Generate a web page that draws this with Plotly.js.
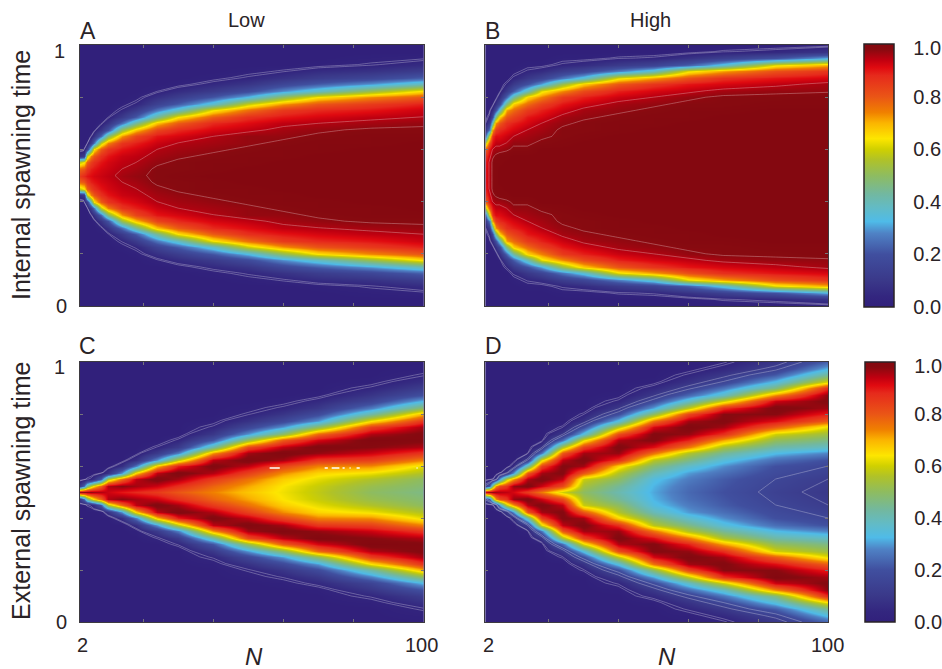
<!DOCTYPE html>
<html><head><meta charset="utf-8">
<script src="https://cdn.plot.ly/plotly-3.0.1.min.js"></script>
<style>html,body{margin:0;padding:0;background:#fff}</style></head>
<body><div id="chart" style="width:942px;height:669px"></div>
<script>
// Column positions (N) and upper-half row positions (time); the lower half is the mirror image.
const nValues = [2,3,4,5,6,8,10,14,18,24,30,40,50,60,70,85,100];
const timeUpper = [.5,.525,.55,.575,.6,.625,.65,.675,.7,.725,.75,.775,.8,.825,.85,.875,.9,.925,.95,.975,1];

// One list per N value, percent of the colour scale, from time .5 upward (missing tail = 0).
const panelA = [
 [85,78,58,8,1],
 [88,80,63,11,1],
 [90,86,78,58,13,1],
 [91,89,84,74,40,13,2],
 [92,90,87,80,64,26,8,1],
 [93,92,90,87,79,58,24,9,2],
 [94,93,92,90,86,74,48,20,8,2],
 [96,95,94,93,90,86,72,52,25,11,4,1],
 [97,96,95,94,92,89,83,68,44,22,11,4,1],
 [98,98,97,96,95,93,90,83,68,44,26,14,7,2],
 [99,98,98,97,96,95,92,88,79,64,38,22,12,6,1],
 [100,99,99,98,97,96,95,92,88,79,63,37,21,11,5,1],
 [100,100,99,99,98,97,97,94,91,87,76,59,33,18,9,4,1],
 [100,100,100,99,99,98,97,96,94,90,85,72,50,29,16,8,3],
 [100,100,100,100,99,99,98,97,95,92,88,80,64,38,22,12,6,1],
 [100,100,100,100,100,99,99,98,96,94,90,85,73,52,30,16,8,3,1],
 [100,100,100,100,100,100,99,98,97,95,93,89,80,65,40,23,12,6,2]
];
const panelB = [
 [90,90,89,86,78,58,24,10,3,1],
 [95,95,95,93,90,81,62,28,12,4,1],
 [98,98,98,97,95,91,87,72,42,18,7,1],
 [99,99,99,98,96,94,91,85,72,46,18,7,1],
 [100,100,99,99,96,94,91,88,80,67,38,17,7,1],
 [100,100,100,99,97,95,93,90,87,80,71,47,24,11,4],
 [100,100,100,100,98,97,95,92,89,84,77,67,43,22,11,4,1],
 [100,100,100,100,98,97,96,95,92,90,85,77,66,40,20,10,4,1],
 [100,100,100,100,100,98,97,96,95,92,89,84,74,62,31,15,6,1],
 [100,100,100,100,100,99,98,98,97,96,93,90,85,73,52,26,12,4,1],
 [100,100,100,100,100,100,99,98,98,97,96,93,89,82,67,36,16,6,1],
 [100,100,100,100,100,100,100,99,99,98,97,96,93,89,80,62,27,11,3],
 [100,100,100,100,100,100,100,100,99,99,98,97,95,92,86,71,38,15,4],
 [100,100,100,100,100,100,100,100,100,99,99,98,97,94,90,81,62,23,8,1],
 [100,100,100,100,100,100,100,100,100,100,99,98,98,96,92,87,71,36,13,3],
 [100,100,100,100,100,100,100,100,100,100,100,99,98,97,94,90,81,62,20,5],
 [100,100,100,100,100,100,100,100,100,100,100,99,99,97,96,92,86,70,32,9,1]
];
const panelC = [
 [96,12],
 [97,25],
 [97,45,3],
 [97,58,4],
 [96,66,8],
 [95,78,22,1],
 [93,95,56,8],
 [90,98,77,30,7],
 [88,96,94,66,27,7,1],
 [85,93,100,94,68,30,11,3],
 [80,87,96,100,89,58,27,11,4],
 [74,78,85,95,100,94,72,42,21,10,4,1],
 [68,71,76,84,94,100,96,82,52,30,16,8,3,1],
 [63,64,67,73,83,96,100,94,79,50,30,17,9,4,1],
 [58,59,62,66,74,86,97,100,92,77,50,30,18,10,5,1],
 [50,52,56,63,73,84,93,98,100,95,84,64,42,27,15,9,4,1],
 [46,48,50,56,62,74,86,95,99,99,96,86,70,50,33,20,12,7,3,1]
];
const panelD = [
 [92,15],
 [96,22,1],
 [97,50,2],
 [96,72,8],
 [95,82,30,1],
 [94,86,58,10],
 [92,97,72,30,6],
 [85,100,95,80,42,13,2],
 [75,93,100,96,84,62,26,9,1],
 [60,82,94,99,99,94,80,55,25,10,3],
 [50,54,59,80,96,100,96,84,62,35,19,8,3],
 [41,44,50,56,66,87,97,100,95,82,58,35,19,10,4,1],
 [31,32,34,40,48,57,76,91,99,99,92,76,50,31,18,10,5,1],
 [24,25,27,30,37,46,56,75,89,97,100,96,83,58,38,24,14,8,4,1],
 [20,21,22,25,29,35,44,55,71,87,96,99,98,87,60,38,26,16,10,5,2],
 [14,15,16,18,20,25,33,42,51,60,79,91,98,100,93,73,47,34,22,14,9],
 [10,11,12,14,16,20,28,38,46,53,62,79,89,96,99,98,88,62,45,33,23]
];
// Short white gaps visible in panel C
const gapN = [56.1,59,null,71.8,72.7,null,73.8,76,null,76.9,77.5,null,78.9,79.2,null,80.9,81.8,null,98,98.3];
const gapTime = [.592,.592,null,.592,.592,null,.592,.592,null,.592,.592,null,.592,.592,null,.592,.592,null,.592,.592];

const tickN = [2,20,40,60,80,100];
const tickTime = [0,.2,.4,.6,.8,1];
const barTicks = [0,.2,.4,.6,.8,.985];
const barText = ['0.0','0.2','0.4','0.6','0.8','1.0'];
// Faint contour levels seen on each panel
const faintLevels = [[[.025,.035],[.95,.975]], [[.025,.035],[.95,.975]], [[.025,.035]], [[.025,.035],[.12,.16]]];

const scale = [[0,'#31207b'],[.04,'#33267f'],[.1,'#3a3889'],[.2,'#404f9f'],[.28,'#4f82c5'],[.325,'#4fbbe8'],
 [.38,'#63bbc4'],[.43,'#72b8a0'],[.5,'#8ebc60'],[.56,'#b0c228'],[.6,'#d0d000'],[.64,'#fde600'],[.7,'#fbb400'],
 [.74,'#f08000'],[.8,'#ea5516'],[.88,'#e62a1c'],[.91,'#e00a10'],[.94,'#c00010'],[.98,'#870a10'],[1,'#840810']];

const W = 942, H = 669, ink = '#2a2326', font = 'Liberation Sans, Arial, sans-serif';
const timeAll = timeUpper.slice(1).reverse().map(t => +(1 - t).toFixed(3)).concat(timeUpper);
function grid(cols) {
  const full = cols.map(c => { const a = timeUpper.map((_, i) => (c[i] || 0) / 100); return a.slice(1).reverse().concat(a); });
  return timeAll.map((_, r) => full.map(c => c[r]));
}
const px = x => x / W, py = y => 1 - y / H;
const xDom = [[px(80), px(424)], [px(486), px(829)]];
const yDom = [[py(306), py(45)], [py(622), py(362)]];
const panels = [panelA, panelB, panelC, panelD];
const bars = {1: [44, 307, 864], 3: [362, 622, 865]};
const data = [];
panels.forEach((p, i) => {
  const xa = 'x' + (i ? i + 1 : ''), ya = 'y' + (i ? i + 1 : ''), z = grid(p);
  const t = {type:'heatmap', x:nValues, y:timeAll, z, xaxis:xa, yaxis:ya, zmin:0, zmax:1, zsmooth:'best',
    colorscale:scale, showscale: !!bars[i], hoverinfo:'skip'};
  if (bars[i]) {
    const [top, bot, left] = bars[i];
    t.colorbar = {x:px(left), xanchor:'left', y:py(bot), yanchor:'bottom', len:(bot - top) / H, lenmode:'fraction',
      thickness:30, thicknessmode:'pixels', xpad:0, ypad:0, outlinecolor:'#2a2326', outlinewidth:1.5, borderwidth:0,
      tickmode:'array', tickvals:barTicks, ticktext:barText, ticks:'outside', ticklen:15, tickcolor:'rgba(0,0,0,0)',
      tickfont:{family:font, size:20, color:ink}};
  }
  data.push(t);
  faintLevels[i].forEach(([s, e]) => data.push({type:'contour', x:nValues, y:timeAll, z, xaxis:xa, yaxis:ya,
    showscale:false, hoverinfo:'skip', autocontour:false,
    contours:{coloring:'none', start:s, end:e, size:e - s, showlabels:false},
    line:{color:'rgba(255,255,255,.28)', width:1, smoothing:0}}));
});
data.push({type:'scatter', mode:'lines', x:gapN, y:gapTime, xaxis:'x3', yaxis:'y3',
  line:{color:'#ffffff', width:1.5}, connectgaps:false, hoverinfo:'skip', showlegend:false});

const layout = {width:W, height:H, autosize:false, margin:{l:0, r:0, t:0, b:0}, paper_bgcolor:'#fff', plot_bgcolor:'#31207b',
  showlegend:false, font:{family:font, color:ink}, annotations:[], shapes:[]};
function axes(i) {
  const s = i ? i + 1 : '', col = i % 2, row = i > 1 ? 1 : 0;
  layout['xaxis' + s] = {domain:xDom[col], anchor:'y' + s, range:[2, 100], showgrid:false, zeroline:false, showline:true, mirror:'ticks',
    linecolor:'#3d3a40', linewidth:1, ticks:'inside', ticklen:3, tickwidth:1, tickcolor:'#77757a',
    tickmode:'array', tickvals:tickN, ticktext:tickN.map(() => '')};
  layout['yaxis' + s] = {domain:yDom[row], anchor:'x' + s, range:[0, 1], showgrid:false, zeroline:false, showline:true, mirror:'ticks',
    linecolor:'#3d3a40', linewidth:1, ticks:'inside', ticklen:3, tickwidth:1, tickcolor:'#77757a',
    tickmode:'array', tickvals:tickTime, ticktext:tickTime.map(() => '')};
}
[0,1,2,3].forEach(axes);
const note = (text, x, y, size, extra) => layout.annotations.push(Object.assign({text, xref:'paper', yref:'paper', x:px(x), y:py(y),
  xanchor:'center', yanchor:'middle', showarrow:false, font:{family:font, size, color:ink}}, extra || {}));
note('Low', 247, 20, 20); note('High', 651, 20, 20);
note('A', 88, 31, 23); note('B', 493, 31, 23); note('C', 88, 346, 23); note('D', 494, 346, 23);
note('Internal spawning time', 21, 175, 25, {textangle:-90});
note('External spawning time', 21, 491, 25, {textangle:-90});
note('1', 60, 51, 20); note('0', 62, 306, 20); note('1', 60, 367, 20); note('0', 62, 622, 20);
note('2', 83, 645, 20); note('100', 422, 645, 20); note('2', 489, 645, 20); note('100', 828, 645, 20);
note('<i>N</i>', 254, 656, 24); note('<i>N</i>', 668, 656, 24);
Plotly.newPlot('chart', data, layout, {staticPlot:true, displayModeBar:false});
</script></body></html>
